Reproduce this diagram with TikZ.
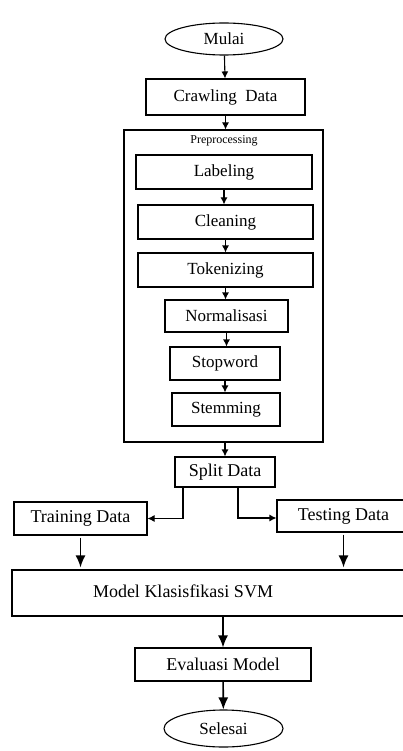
\documentclass[tikz,border=0pt]{standalone}
\usepackage{fontspec}
\setmainfont{Liberation Serif}
\usetikzlibrary{shapes.geometric,arrows.meta}
\begin{document}
\begin{tikzpicture}[x=1pt,y=-1pt,line width=1.1pt,>={Latex[length=7pt,width=7pt]},
  box/.style={draw,rectangle,inner sep=0pt,font=\fontsize{17}{19}\selectfont},
  lowbox/.style={draw,rectangle,inner sep=0pt,font=\fontsize{18}{20}\selectfont},
  oval/.style={draw,ellipse,inner sep=0pt,font=\fontsize{17}{19}\selectfont},
  bigarr/.style={-{Latex[length=12pt,width=10pt]},line width=1.6pt}]
\useasboundingbox (0,0) rectangle (403,751);
\node[oval,minimum width=118,minimum height=32] (mulai) at (224,39) {Mulai};
\node[box,minimum width=159,minimum height=36] (crawl) at (225.5,97) {Crawling\ \ Data};
\node[draw,rectangle,inner sep=0pt,minimum width=199,minimum height=312] (prep) at (223.5,286) {};
\node[font=\fontsize{12}{14}\selectfont] (preplbl) at (224,141) {Preprocessing};
\node[box,minimum width=176,minimum height=34] (label) at (224,172) {Labeling};
\node[box,minimum width=175,minimum height=34] (clean) at (225.5,222) {Cleaning};
\node[box,minimum width=175,minimum height=34] (token) at (225.5,270) {Tokenizing};
\node[box,minimum width=123,minimum height=32] (norm) at (226.5,316) {Normalisasi};
\node[box,minimum width=110,minimum height=33] (stop) at (225,363.5) {Stopword};
\node[box,minimum width=108,minimum height=33] (stem) at (226,409.5) {Stemming};
\node[lowbox,minimum width=100,minimum height=30] (split) at (225,472) {Split Data};
\node[lowbox,minimum width=133,minimum height=33] (train) at (80.5,518.5) {Training Data};
\node[lowbox,minimum width=133,minimum height=32] (test) at (343.5,516) {Testing Data};
\node[draw,rectangle,inner sep=0pt,minimum width=398,minimum height=46] (model) at (211,593) {};
\node[font=\fontsize{18}{20}\selectfont] (modeltxt) at (183,591) {Model Klasisfikasi SVM};
\node[lowbox,minimum width=176,minimum height=33] (eval) at (223,664.5) {Evaluasi Model};
\node[oval,minimum width=119,minimum height=37] (selesai) at (223.5,728.5) {Selesai};
% alur utama
\draw[->] (mulai) -- (crawl);
\draw[->] (crawl) -- (crawl.south |- prep.north);
\draw[->] (label) -- (label.south |- clean.north);
\draw[->] (clean) -- (clean.south |- token.north);
\draw[->] (token) -- (token.south |- norm.north);
\draw[->] (norm) -- (norm.south |- stop.north);
\draw[->] (stop) -- (stop.south |- stem.north);
\draw[->] (prep.south -| split.north) -- (split);
% pembagian data
\draw[->] ([xshift=-42]split.south) |- (train.east);
\draw[->] ([xshift=13]split.south) |- ([yshift=-2]test.west);
\draw[bigarr] ([yshift=-2]train.south) -- ([yshift=2]train.south |- model.north);
\draw[bigarr] ([yshift=-2]test.south) -- ([yshift=2]test.south |- model.north);
\draw[bigarr] (model.south -| eval.north) -- (eval);
\draw[bigarr] (eval) -- (selesai);
\end{tikzpicture}
\end{document}
